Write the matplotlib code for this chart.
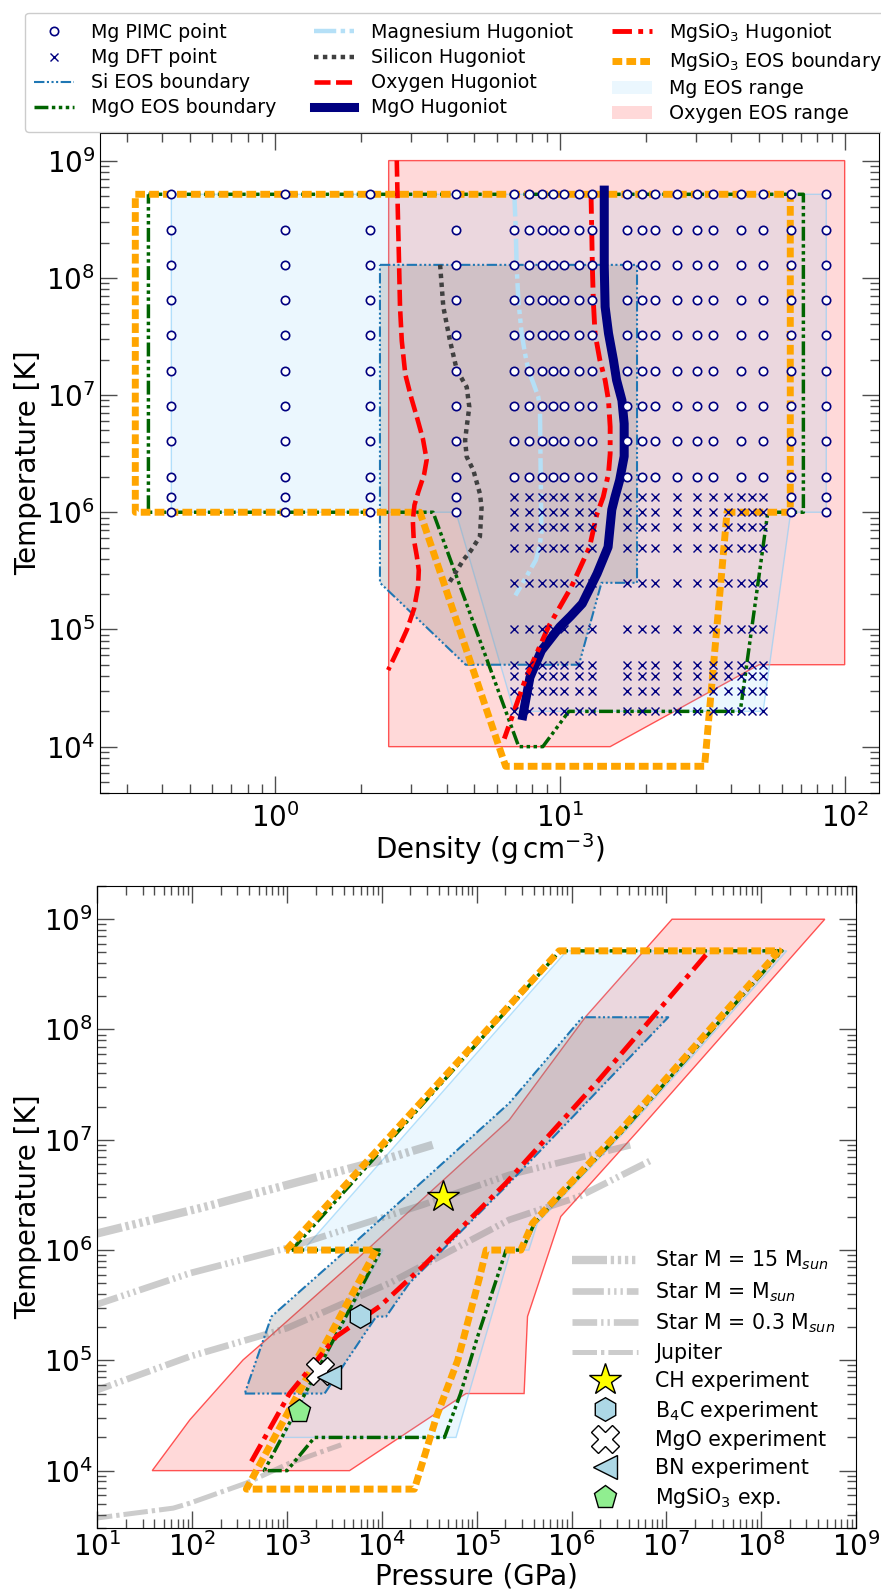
import numpy as np
import matplotlib
matplotlib.use("Agg")
import matplotlib.pyplot as plt
from matplotlib.ticker import LogLocator, NullFormatter

plt.rcParams['font.family'] = ['DejaVu Sans']
plt.rcParams['mathtext.fontset'] = 'dejavusans'

# ---------------- density - temperature (top panel) ----------------
pimc_rho_full = [0.431, 1.077, 2.154, 4.308, 64.62, 86.16]
pimc_rho_hot = [6.893, 7.754, 8.616, 9.477, 10.34, 11.63, 12.92, 17.23, 19.39,
                21.54, 25.85, 30.16, 34.47, 43.08, 51.70]
pimc_T = [5.16e8, 2.58e8, 1.29e8, 6.45e7, 3.23e7, 1.61e7, 8.06e6, 4.03e6,
          2.0e6, 1.35e6, 1.0e6]
pimc_T_hot = pimc_T[:9]
dft_rho = [6.893, 7.754, 8.616, 9.477, 10.34, 11.63, 12.92, 17.23, 19.39,
           21.54, 25.85, 30.16, 34.47, 38.77, 43.08, 47.39, 51.70]
dft_T = [1.35e6, 1.0e6, 7.5e5, 5.0e5, 2.5e5, 1.0e5, 5.0e4, 4.0e4, 3.0e4, 2.0e4]

mg_rng_rho = [0.431, 86.16, 86.16, 64.62, 51.70, 6.893, 4.308, 0.431]
mg_rng_T = [5.16e8, 5.16e8, 1e6, 1e6, 2e4, 2e4, 1e6, 1e6]
o_rng_rho = [2.5, 15, 50, 100, 100, 2.5]
o_rng_T = [1e4, 1e4, 5e4, 5e4, 1e9, 1e9]
si_rho = [2.33, 18.64, 18.64, 13.98, 11.65, 4.66, 2.33, 2.33]
si_T = [1.29e8, 1.29e8, 2.5e5, 2.5e5, 5e4, 5e4, 2.5e5, 1.29e8]
mgo_rho = [0.358, 71.6, 71.6, 53.7, 42.96, 10.74, 8.7, 7.16, 3.58, 0.358, 0.358]
mgo_T = [5.16e8, 5.16e8, 1e6, 1e6, 2e4, 2e4, 1e4, 1e4, 1e6, 1e6, 5.16e8]
mgsio3_rho = [0.322, 64.4, 64.4, 38.6, 32.2, 6.44, 3.22, 0.322, 0.322]
mgsio3_T = [5.16e8, 5.16e8, 1e6, 1e6, 6.8e3, 6.8e3, 1e6, 1e6, 5.16e8]

hug_mg_rho = [6.91, 6.99, 7.04, 7.14, 7.33, 7.53, 7.74, 8.07, 8.38, 8.5, 8.55,
              8.6, 8.46, 8.22, 7.6, 6.97]
hug_mg_T = [5.16e8, 2.56e8, 1.24e8, 6.4e7, 3.36e7, 2.27e7, 1.63e7, 1.25e7,
            9.7e6, 7.9e6, 2.1e6, 6.6e5, 5.05e5, 3.9e5, 2.8e5, 1.95e5]
hug_si_rho = [3.79, 3.89, 4.10, 4.34, 4.70, 4.80, 4.70, 4.64, 4.70, 4.96, 5.23,
              5.30, 5.23, 4.86, 4.57, 4.06]
hug_si_T = [1.29e8, 5.65e7, 2.95e7, 1.63e7, 1.17e7, 7.9e6, 5.35e6, 4.1e6,
            2.97e6, 2.28e6, 1.44e6, 1.1e6, 6.2e5, 4.7e5, 3.9e5, 2.46e5]
hug_o_rho = [2.67, 2.69, 2.72, 2.74, 2.78, 2.86, 3.0, 3.14, 3.30, 3.40, 3.33,
             3.18, 3.08, 3.04, 3.06, 3.14, 3.19, 3.17, 3.07, 2.90, 2.70, 2.49]
hug_o_T = [1.0e9, 4.0e8, 1.29e8, 5.7e7, 2.9e7, 1.5e7, 9.5e6, 6.5e6, 4.2e6,
           2.8e6, 2.1e6, 1.5e6, 1.15e6, 8.5e5, 6.0e5, 4.2e5, 3.2e5, 2.3e5,
           1.5e5, 1.0e5, 6.8e4, 4.5e4]
hug_mgo_rho = [14.3, 14.3, 14.4, 14.8, 15.4, 15.8, 16.5, 16.8, 16.8, 16.2, 15.6,
               15.2, 14.75, 13.5, 11.97, 10.9, 9.98, 8.6, 7.84, 7.4]
hug_mgo_T = [5.6e8, 1.24e8, 5.65e7, 3.36e7, 1.99e7, 1.34e7, 9.0e6, 5.7e6,
             3.0e6, 1.88e6, 1.35e6, 1.05e6, 5.05e5, 3.0e5, 1.66e5, 1.3e5,
             1.05e5, 6.6e4, 3.9e4, 1.84e4]
hug_mgsio3_rho = [12.85, 12.94, 12.99, 13.09, 13.27, 13.8, 14.4, 14.8, 15.0,
                  15.0, 14.8, 14.18, 13.45, 12.7, 10.95, 9.1, 7.6, 6.37]
hug_mgsio3_T = [5.16e8, 2.11e8, 1.24e8, 6.4e7, 3.36e7, 1.99e7, 1.34e7, 9.0e6,
                5.35e6, 3.17e6, 2.14e6, 1.35e6, 9.5e5, 5.05e5, 2.3e5, 1.05e5,
                3.9e4, 1.17e4]

# ---------------- pressure - temperature (bottom panel), log10 values ----------------
pt_mg_logP = [3.17, 5.95, 8.27, 6.58, 5.64, 5.55, 5.36, 4.782, 2.957, 4.01]
pt_mg_logT = [6.0, 8.713, 8.713, 7.09, 6.244, 6.0, 6.0, 4.301, 4.301, 6.0]
pt_o_logP = [1.578, 3.659, 4.887, 5.50, 5.536, 5.887, 6.711, 8.671, 7.06, 6.15,
             5.343, 3.764, 2.746, 2.536, 1.975]
pt_o_logT = [4.0, 4.0, 4.699, 4.699, 5.397, 6.304, 7.09, 9.0, 9.0, 8.117,
             7.18, 5.94, 5.161, 5.004, 4.461]
pt_si_logP = [2.554, 3.396, 3.94, 4.045, 4.29, 5.308, 7.02, 6.115, 5.343, 3.59,
              2.835, 2.554]
pt_si_logT = [4.699, 4.699, 5.397, 5.397, 5.70, 6.576, 8.111, 8.111, 7.332,
              5.972, 5.397, 4.699]
pt_mgo_logP = [3.05, 5.88, 8.22, 6.55, 5.61, 5.48, 5.31, 5.0, 4.83, 4.66, 3.29,
               3.0, 2.76, 3.99, 3.05]
pt_mgo_logT = [6.0, 8.713, 8.713, 7.09, 6.244, 6.0, 6.0, 5.19, 4.70, 4.301,
               4.301, 4.0, 4.0, 6.0, 6.0]
pt_mgsio3_logP = [2.99, 5.87, 8.19, 6.52, 5.59, 5.466, 5.10, 5.03, 4.80, 4.58,
                  4.343, 2.571, 3.94, 2.99]
pt_mgsio3_logT = [6.0, 8.713, 8.713, 7.09, 6.244, 6.0, 6.0, 5.75, 5.0, 4.5,
                  3.8325, 3.8325, 6.0, 6.0]
pt_hug_logP = [2.624, 3.027, 3.519, 3.975, 4.43, 5.308, 6.289, 7.447]
pt_hug_logT = [4.083, 4.70, 5.216, 5.488, 5.85, 6.607, 7.543, 8.706]

star15_logP = [0.9, 2.08, 3.133, 4.01, 4.536]
star15_logT = [6.13, 6.38, 6.621, 6.818, 6.954]
star1_logP = [0.9, 1.975, 2.993, 4.43, 5.343, 6.62]
star1_logT = [5.48, 5.79, 6.017, 6.41, 6.682, 6.95]
star03_logP = [0.9, 1.975, 3.0, 4.08, 5.343, 6.08, 6.85]
star03_logT = [4.70, 5.035, 5.292, 5.70, 6.274, 6.485, 6.818]
jup_logP = [0.9, 1.8, 1.975, 2.57, 3.027, 3.57]
jup_logT = [3.56, 3.66, 3.705, 3.887, 4.068, 4.234]

exp_names = ["CH experiment", "B$_4$C experiment", "MgO experiment",
             "BN experiment", "MgSiO$_3$ exp."]
exp_P = [4.37e4, 5.9e3, 2.24e3, 2.8e3, 1.33e3]
exp_T = [3.0e6, 2.5e5, 8.0e4, 7.0e4, 3.5e4]
exp_markers = ['*', 'h', 'X', '<', 'p']
exp_colors = ['yellow', 'lightblue', 'white', 'lightblue', 'lightgreen']
exp_sizes = [24, 17, 20, 17, 17]


def p10(v):
    return 10 ** np.asarray(v)


def style_axes(ax, xpad):
    ax.set_xscale('log')
    ax.set_yscale('log')
    for axis in (ax.xaxis, ax.yaxis):
        axis.set_major_locator(LogLocator(base=10, numticks=20))
        axis.set_minor_locator(LogLocator(base=10, subs=np.arange(2, 10) * 1.0, numticks=20))
        axis.set_minor_formatter(NullFormatter())
    ax.tick_params(which='both', direction='in', top=True, right=True, color='0.3')
    ax.tick_params(which='major', length=12, width=1, labelsize=20)
    ax.tick_params(which='minor', length=6.5, width=1)
    ax.tick_params(axis='x', which='major', pad=xpad)


fig = plt.figure(figsize=(8.81, 15.96), dpi=100)
ax1 = fig.add_axes([100 / 881, 1 - 793.3 / 1596, 779 / 881, 660.3 / 1596])
ax2 = fig.add_axes([97.4 / 881, 1 - 1528.3 / 1596, 758.6 / 881, 642.3 / 1596])

blue_fc = (135 / 255, 206 / 255, 250 / 255, 0.16)
blue_ec = (135 / 255, 206 / 255, 250 / 255, 0.6)
red_fc = (1, 0, 0, 0.15)
red_ec = (1, 0, 0, 0.65)
si_fc = (0.5, 0.5, 0.5, 0.25)
si_col = '#1f77b4'

# ---- top panel ----
h_orng = ax1.fill(o_rng_rho, o_rng_T, fc=red_fc, ec='none', zorder=1, label='Oxygen EOS range')[0]
ax1.fill(o_rng_rho, o_rng_T, fc='none', ec=red_ec, lw=1, zorder=1)
h_mgrng = ax1.fill(mg_rng_rho, mg_rng_T, fc=blue_fc, ec='none', zorder=1, label='Mg EOS range')[0]
ax1.fill(mg_rng_rho, mg_rng_T, fc='none', ec=blue_ec, lw=1, zorder=1)
ax1.fill(si_rho, si_T, fc=si_fc, ec='none', zorder=1)
h_si, = ax1.plot(si_rho, si_T, color=si_col, lw=1.5, dashes=[5, 1.2, 1, 1.2, 1, 1.2, 1, 1.2],
                 zorder=2, label='Si EOS boundary')
h_mgo, = ax1.plot(mgo_rho, mgo_T, color='darkgreen', lw=2.5, dashes=[4, 1, 1, 1, 1, 1, 1, 1],
                  zorder=2, label='MgO EOS boundary')
h_mgsio3, = ax1.plot(mgsio3_rho, mgsio3_T, color='orange', lw=5, dashes=[1.4, 0.6],
                     zorder=2.1, label='MgSiO$_3$ EOS boundary')

h_hmg, = ax1.plot(hug_mg_rho, hug_mg_T, color='#b5e0f7', lw=3.2, dashes=[5, 1, 1, 1, 1, 1],
                  zorder=3, label='Magnesium Hugoniot')
h_hsi, = ax1.plot(hug_si_rho, hug_si_T, color='#404040', lw=3.2, dashes=[1, 1],
                  zorder=3, label='Silicon Hugoniot')
h_ho, = ax1.plot(hug_o_rho, hug_o_T, color='red', lw=3.3, dashes=[3.5, 1.2], zorder=3,
                 label='Oxygen Hugoniot')
h_hmgo, = ax1.plot(hug_mgo_rho, hug_mgo_T, color='navy', lw=6.5, zorder=3, label='MgO Hugoniot')
h_hmgsio3, = ax1.plot(hug_mgsio3_rho, hug_mgsio3_T, color='red', lw=3.5, dashes=[4, 1.3, 1, 1.3],
                      zorder=3.1, label='MgSiO$_3$ Hugoniot')

R1, T1 = np.meshgrid(pimc_rho_full, pimc_T)
R2, T2 = np.meshgrid(pimc_rho_hot, pimc_T_hot)
pr = np.concatenate([R1.ravel(), R2.ravel()])
pt = np.concatenate([T1.ravel(), T2.ravel()])
h_pimc, = ax1.plot(pr, pt, ls='none', marker='o', ms=6, mfc='white', mec='navy', mew=1.2,
                   zorder=4, label='Mg PIMC point')
R3, T3 = np.meshgrid(dft_rho, dft_T)
h_dft, = ax1.plot(R3.ravel(), T3.ravel(), ls='none', marker='x', ms=5.5, mec='navy', mew=1,
                  zorder=4, label='Mg DFT point')

style_axes(ax1, 7)
ax1.set_xlim(0.242, 132)
ax1.set_ylim(4.0e3, 1.72e9)
ax1.set_xlabel('Density (g$\\,$cm$^{-3}$)', fontsize=20)
ax1.set_ylabel('Temperature [K]', fontsize=20)
ax1.xaxis.set_label_coords(0.5, -0.058)
ax1.yaxis.set_label_coords(-0.074, 0.5)

handles = [h_pimc, h_dft, h_si, h_mgo, h_hmg, h_hsi, h_ho, h_hmgo,
           h_hmgsio3, h_mgsio3, h_mgrng, h_orng]
fig.legend(handles=handles, labels=[h.get_label() for h in handles],
           loc='upper left', bbox_to_anchor=(15.8 / 881, 1 - 3 / 1596), ncol=3, fontsize=13.7,
           handlelength=2.1, handletextpad=0.9, columnspacing=2.0, labelspacing=0.32,
           borderpad=0.45, numpoints=1, edgecolor='0.8', framealpha=1)

# ---- bottom panel ----
ax2.fill(p10(pt_o_logP), p10(pt_o_logT), fc=red_fc, ec='none', zorder=1)
ax2.fill(p10(pt_o_logP), p10(pt_o_logT), fc='none', ec=red_ec, lw=1, zorder=1)
ax2.fill(p10(pt_mg_logP), p10(pt_mg_logT), fc=blue_fc, ec='none', zorder=1)
ax2.fill(p10(pt_mg_logP), p10(pt_mg_logT), fc='none', ec=blue_ec, lw=1, zorder=1)
ax2.fill(p10(pt_si_logP), p10(pt_si_logT), fc=si_fc, ec='none', zorder=1)

grey = (0.5, 0.5, 0.5, 0.4)
s15, = ax2.plot(p10(star15_logP), p10(star15_logT), color=grey, lw=6,
                dashes=[4.2, 0.45, 0.4, 0.45, 0.4, 0.45, 0.4, 0.45, 0.4, 0.45],
                zorder=1.5, label='Star M = 15 M$_{sun}$')
s1, = ax2.plot(p10(star1_logP), p10(star1_logT), color=grey, lw=4.8,
               dashes=[4.7, 0.6, 0.35, 0.6, 0.35, 0.6, 0.35, 0.6],
               zorder=1.5, label='Star M = M$_{sun}$')
s03, = ax2.plot(p10(star03_logP), p10(star03_logT), color=grey, lw=4.8,
                dashes=[3.7, 0.6, 0.35, 0.6, 0.35, 0.6],
                zorder=1.5, label='Star M = 0.3 M$_{sun}$')
sj, = ax2.plot(p10(jup_logP), p10(jup_logT), color=grey, lw=3.6,
               dashes=[4.9, 0.8, 0.67, 0.8], zorder=1.5, label='Jupiter')

ax2.plot(p10(pt_si_logP), p10(pt_si_logT), color=si_col, lw=1.5,
         dashes=[5, 1.2, 1, 1.2, 1, 1.2, 1, 1.2], zorder=2)
ax2.plot(p10(pt_mgo_logP), p10(pt_mgo_logT), color='darkgreen', lw=2.5,
         dashes=[4, 1, 1, 1, 1, 1, 1, 1], zorder=2)
ax2.plot(p10(pt_mgsio3_logP), p10(pt_mgsio3_logT), color='orange', lw=5,
         dashes=[1.4, 0.6], zorder=2.1)
ax2.plot(p10(pt_hug_logP), p10(pt_hug_logT), color='red', lw=3.5,
         dashes=[4, 1.3, 1, 1.3], zorder=3)

exp_handles = []
for name, P, T, m, c, s in zip(exp_names, exp_P, exp_T, exp_markers, exp_colors, exp_sizes):
    h, = ax2.plot([P], [T], ls='none', marker=m, ms=s, mfc=c, mec='black', mew=1,
                  zorder=5, label=name)
    exp_handles.append(h)

style_axes(ax2, 3)
ax2.set_xlim(10, 1e9)
ax2.set_ylim(3e3, 2e9)
ax2.set_xlabel('Pressure (GPa)', fontsize=20)
ax2.set_ylabel('Temperature [K]', fontsize=20)
ax2.xaxis.set_label_coords(0.5, -0.054)
ax2.yaxis.set_label_coords(-0.073, 0.5)

leg2_handles = [s15, s1, s03, sj] + exp_handles
ax2.legend(handles=leg2_handles, labels=[h.get_label() for h in leg2_handles],
           loc='lower right', bbox_to_anchor=(0.984, 0.0156), frameon=False, fontsize=14.8,
           handlelength=3.25, handletextpad=0.83, labelspacing=0.38, borderaxespad=0,
           borderpad=0.4, numpoints=1)

fig.savefig('out.png', dpi=100)
